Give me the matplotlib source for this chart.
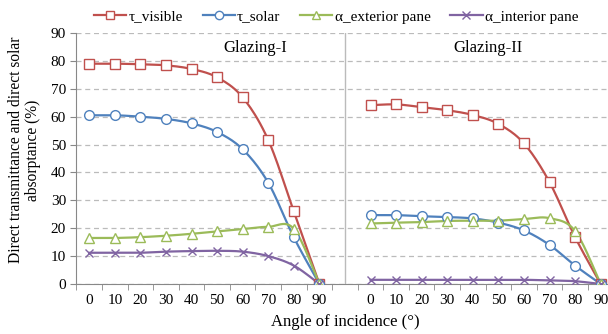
import numpy as np
import matplotlib
matplotlib.use("Agg")
import matplotlib.pyplot as plt

plt.rcParams['font.family'] = ['Liberation Serif', 'DejaVu Serif']

# data
angles = [0, 10, 20, 30, 40, 50, 60, 70, 80, 90]

vis_1 = [79.0, 79.0, 78.8, 78.4, 77.1, 74.1, 66.9, 51.6, 26.0, 0]
sol_1 = [60.5, 60.5, 60.0, 59.2, 57.6, 54.5, 48.3, 36.3, 16.7, 0]
ext_1 = [16.5, 16.5, 16.8, 17.3, 18.0, 18.9, 19.7, 20.5, 19.8, 0]
int_1 = [11.2, 11.2, 11.2, 11.6, 11.8, 11.9, 11.6, 10.0, 6.6, 0]

vis_2 = [64.1, 64.4, 63.4, 62.3, 60.6, 57.4, 50.4, 36.5, 16.8, 0]
sol_2 = [24.7, 24.7, 24.3, 24.0, 23.5, 22.0, 19.2, 14.0, 6.6, 0]
ext_2 = [21.7, 22.0, 22.2, 22.6, 22.7, 22.7, 23.3, 23.6, 19.0, 0]
int_2 = [1.5, 1.5, 1.5, 1.5, 1.5, 1.5, 1.5, 1.3, 1.0, 0]

names = ['τ_visible', 'τ_solar', 'α_exterior pane', 'α_interior pane']
colors = ['#C0504D', '#4F81BD', '#9BBB59', '#8064A2']
markers = ['s', 'o', '^', 'x']
panels = ['Glazing-I', 'Glazing-II']


def smooth(x, y, n=20):
    # excel-like smoothed line (bezier, tension 1/6)
    x = np.asarray(x, float)
    y = np.asarray(y, float)
    px = np.concatenate([[x[0]], x, [x[-1]]])
    py = np.concatenate([[y[0]], y, [y[-1]]])
    xs, ys = [], []
    t = np.linspace(0, 1, n)
    for i in range(1, len(x)):
        p0 = np.array([px[i], py[i]])
        p3 = np.array([px[i + 1], py[i + 1]])
        c1 = p0 + (np.array([px[i + 1], py[i + 1]]) - np.array([px[i - 1], py[i - 1]])) / 6
        c2 = p3 - (np.array([px[i + 2], py[i + 2]]) - np.array([px[i], py[i]])) / 6
        b = ((1 - t) ** 3)[:, None] * p0 + (3 * (1 - t) ** 2 * t)[:, None] * c1 \
            + (3 * (1 - t) * t ** 2)[:, None] * c2 + (t ** 3)[:, None] * p3
        xs.extend(b[:, 0])
        ys.extend(b[:, 1])
    return np.array(xs), np.array(ys)


fig = plt.figure(figsize=(6.08, 3.34), dpi=100)
# plot area runs a little past the right edge of the image, as in the original
ax = fig.add_axes([0.1258, 0.1497, 0.8832, 0.7515])

# category positions: left block 0..9, divider at 10, right block 11..20
x1 = np.arange(len(angles))
x2 = x1 + 11

series = [(vis_1, vis_2), (sol_1, sol_2), (ext_1, ext_2), (int_1, int_2)]
for (a, b), name, c, m in zip(series, names, colors, markers):
    for xx, yy in [(x1, a), (x2, b)]:
        sx, sy = smooth(xx, yy)
        ax.plot(sx, sy, color=c, lw=1.6, zorder=3)
        ms = 7 if m != 'x' else 6
        ax.plot(xx, yy, ls='none', marker=m, ms=ms, mfc='white', mec=c,
                mew=1.0, zorder=4)
    ax.plot([], [], color=c, lw=1.6, marker=m, ms=6, mfc='white', mec=c,
            mew=1.0, label=name)

ax.set_xlim(-0.5, 20.5)
ax.set_ylim(0, 90)
ax.set_yticks(range(0, 91, 10))
ax.set_xticks(list(x1) + list(x2))
ax.set_xticklabels([str(a) for a in angles] * 2)
ax.set_xticks(np.arange(-0.5, 21, 1), minor=True)
ax.tick_params(axis='x', which='major', length=0, labelsize=11, pad=7)
ax.tick_params(axis='x', which='minor', length=4, color='#888888', direction='out')
ax.tick_params(axis='y', length=4, color='#888888', labelsize=11)

ax.yaxis.grid(True, ls=(0, (4, 3)), color='#BBBBBB', lw=0.9)
ax.set_axisbelow(True)
for s in ['top', 'right']:
    ax.spines[s].set_visible(False)
for s in ['left', 'bottom']:
    ax.spines[s].set_color('#888888')
ax.axvline(10, color='#BBBBBB', lw=1.0, zorder=1)

ax.text(6.5, 84.5, panels[0], ha='center', va='center', fontsize=12)
ax.text(15.6, 84.5, panels[1], ha='center', va='center', fontsize=12)

ax.set_xlabel('Angle of incidence (°)', fontsize=12, labelpad=5)
ax.set_ylabel('Direct transmittance and direct solar\nabsorptance (%)',
              fontsize=11.2, linespacing=1.05)
ax.yaxis.set_label_coords(-0.066, 0.534)

fig.legend(loc='center', bbox_to_anchor=(0.553, 0.95), ncol=4, frameon=False,
           fontsize=11, handlelength=2.1, columnspacing=1.3, handletextpad=0.15)

fig.savefig('out.png', dpi=100)
